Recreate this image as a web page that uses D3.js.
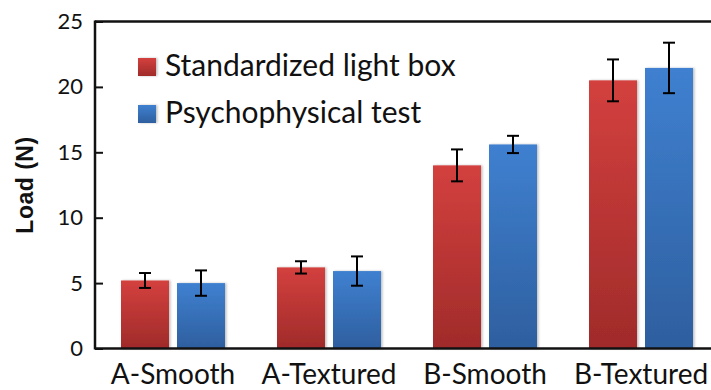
<!DOCTYPE html>
<html>
<head>
<meta charset="utf-8">
<script src="https://cdn.jsdelivr.net/npm/d3@7"></script>
<style>
  html, body { margin: 0; padding: 0; background: #fff; }
  svg { display: block; }
</style>
</head>
<body>
<svg id="chart" width="711" height="390"></svg>
<script>
// Load measured for each surface, by method
const categories = ["A-Smooth", "A-Textured", "B-Smooth", "B-Textured"];
const seriesNames = ["Standardized light box", "Psychophysical test"];
const lightBox = [5.2, 6.2, 14.0, 20.5];
const lightBoxErr = [0.57, 0.47, 1.22, 1.6];
const psychophysical = [5.0, 5.92, 15.6, 21.45];
const psychophysicalErr = [0.97, 1.12, 0.66, 1.93];
const yTicks = [0, 5, 10, 15, 20, 25];

const series = [
  { name: seriesNames[0], values: lightBox, err: lightBoxErr, c0: "#d3403e", c1: "#a02b2a" },
  { name: seriesNames[1], values: psychophysical, err: psychophysicalErr, c0: "#3f80d0", c1: "#2e5f9f" }
];

const svg = d3.select("#chart");
const plotLeft = 95, plotRight = 719, plotTop = 21.5, plotBottom = 348.5;

const x = d3.scaleBand().domain(categories).range([plotLeft, plotRight]).paddingInner(0).paddingOuter(0);
const xSub = d3.scaleBand().domain(seriesNames).range([-52, 52]).paddingInner(2 - 104 / 56);
const y = d3.scaleLinear().domain([0, 25]).range([plotBottom, plotTop]);

// Gradients and soft shadow for the bars
const defs = svg.append("defs");
series.forEach((s, i) => {
  const g = defs.append("linearGradient").attr("id", "grad" + i)
    .attr("x1", 0).attr("y1", 0).attr("x2", 0).attr("y2", 1);
  g.append("stop").attr("offset", "0%").attr("stop-color", s.c0);
  g.append("stop").attr("offset", "100%").attr("stop-color", s.c1);
});
const f = defs.append("filter").attr("id", "shadow")
  .attr("x", "-10%").attr("y", "-10%").attr("width", "130%").attr("height", "130%");
f.append("feDropShadow").attr("dx", 1.5).attr("dy", 0).attr("stdDeviation", 1.2)
  .attr("flood-color", "#000").attr("flood-opacity", 0.25);

// Bars
const groups = svg.append("g").selectAll("g")
  .data(categories).join("g")
  .attr("transform", d => `translate(${x(d) + x.bandwidth() / 2},0)`);

series.forEach((s, si) => {
  groups.append("rect")
    .attr("x", xSub(s.name))
    .attr("width", xSub.bandwidth())
    .attr("y", (d, i) => y(s.values[i]))
    .attr("height", (d, i) => y(0) - y(s.values[i]))
    .attr("fill", `url(#grad${si})`)
    .attr("filter", "url(#shadow)");
});

// Error bars
series.forEach(s => {
  const cx = xSub(s.name) + xSub.bandwidth() / 2;
  groups.each(function (d, i) {
    const g = d3.select(this);
    const hi = y(s.values[i] + s.err[i]);
    const lo = y(s.values[i] - s.err[i]);
    g.append("line").attr("x1", cx).attr("x2", cx).attr("y1", hi).attr("y2", lo)
      .attr("stroke", "#000").attr("stroke-width", 2);
    [hi, lo].forEach(v => g.append("line")
      .attr("x1", cx - 6).attr("x2", cx + 6).attr("y1", v).attr("y2", v)
      .attr("stroke", "#000").attr("stroke-width", 2));
  });
});

// Frame lines: top, left axis, baseline
svg.append("line").attr("x1", plotLeft).attr("x2", 711).attr("y1", plotTop).attr("y2", plotTop)
  .attr("stroke", "#111").attr("stroke-width", 2.5);

const yAxis = svg.append("g").attr("transform", `translate(${plotLeft},0)`)
  .call(d3.axisRight(y).tickValues(yTicks).tickSize(8).tickFormat(""));
yAxis.select(".domain").remove();
yAxis.selectAll(".tick line").attr("stroke", "#111").attr("stroke-width", 2);
svg.append("line").attr("x1", plotLeft).attr("x2", plotLeft).attr("y1", plotTop - 1).attr("y2", plotBottom + 1)
  .attr("stroke", "#111").attr("stroke-width", 2.5);

const tickLabels = svg.append("g").attr("transform", `translate(${plotLeft},0)`)
  .call(d3.axisLeft(y).tickValues(yTicks).tickSize(0).tickPadding(12));
tickLabels.select(".domain").remove();
tickLabels.selectAll("text")
  .attr("font-family", "Lato, sans-serif").attr("font-size", 22).attr("fill", "#111");

const xAxis = svg.append("g").attr("transform", `translate(0,${plotBottom})`)
  .call(d3.axisBottom(x).tickSize(0).tickPadding(16));
xAxis.select(".domain").remove();
xAxis.selectAll("text")
  .attr("font-family", "Lato, sans-serif").attr("font-size", 28).attr("fill", "#111")
  .attr("dy", "0.71em");
svg.append("line").attr("x1", plotLeft).attr("x2", 711).attr("y1", plotBottom).attr("y2", plotBottom)
  .attr("stroke", "#111").attr("stroke-width", 2.5);

// Y axis title
svg.append("text")
  .attr("transform", `translate(33,${(plotTop + plotBottom) / 2}) rotate(-90)`)
  .attr("text-anchor", "middle")
  .attr("font-family", "'Liberation Sans', Arial, sans-serif")
  .attr("font-weight", "bold").attr("font-size", 23).attr("letter-spacing", 0.5).attr("fill", "#111")
  .text("Load (N)");

// Legend
const legend = svg.append("g").attr("transform", "translate(138,58)");
series.forEach((s, i) => {
  const row = legend.append("g").attr("transform", `translate(0,${i * 47})`);
  row.append("rect").attr("width", 18).attr("height", 18)
    .attr("fill", `url(#grad${i})`).attr("filter", "url(#shadow)");
  row.append("text").attr("x", 27).attr("y", 18)
    .attr("font-family", "Lato, sans-serif").attr("font-size", 30).attr("fill", "#111")
    .text(s.name);
});
</script>
</body>
</html>
